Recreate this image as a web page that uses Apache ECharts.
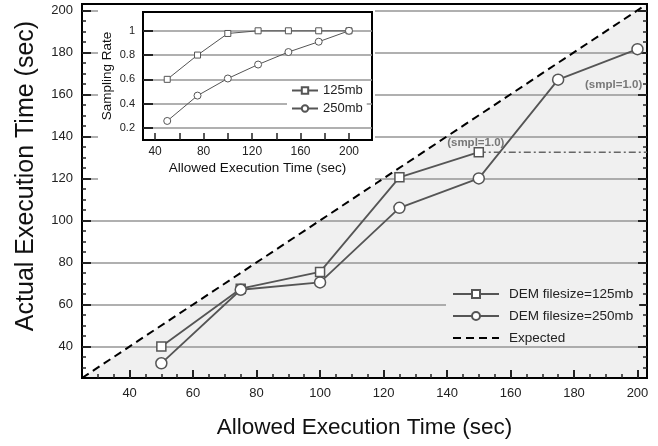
<!DOCTYPE html>
<html>
<head>
<meta charset="utf-8">
<script src="https://cdn.jsdelivr.net/npm/echarts@6/dist/echarts.min.js"></script>
<style>
  html, body { margin: 0; padding: 0; background: #fff; }
  #chart { width: 658px; height: 446px; }
</style>
</head>
<body>
<div id="chart"></div>
<script>
// main plot data
var allowedTime = [50, 75, 100, 125, 150, 175, 200];
var actual125 = [40, 67.5, 75.5, 120.5, 132.5];
var actual250 = [32, 67, 70.5, 106, 120, 167, 181.5];
var axisMin = 25, axisMax = 203;
var majorTicks = [40, 60, 80, 100, 120, 140, 160, 180, 200];
var minorTicks = [30, 35, 45, 50, 55, 65, 70, 75, 85, 90, 95, 105, 110, 115, 125, 130, 135,
                  145, 150, 155, 165, 170, 175, 185, 190, 195];

// inset data
var rate125 = [0.6, 0.8, 0.978, 1, 1, 1, 1];
var rate250 = [0.257, 0.466, 0.607, 0.722, 0.825, 0.91, 1];
var insetXTicks = [40, 60, 80, 100, 120, 140, 160, 180, 200];
var insetXLabels = [40, 80, 120, 160, 200];
var insetYTicks = [0.2, 0.4, 0.6, 0.8, 1];

var FONT = '"Liberation Sans", Arial, Helvetica, sans-serif';
var LINE = '#555';
var GRIDC = '#969696';

function pairs(xs, ys) {
  var out = [];
  for (var i = 0; i < ys.length; i++) out.push([xs[i], ys[i]]);
  return out;
}

var noteStyle = { show: true, formatter: '(smpl=1.0)', fontSize: 11.5, fontWeight: 'bold', color: '#777' };
var d125 = pairs(allowedTime, actual125);
// sampling rate reached 1.0 at these points
d125[d125.length - 1] = {
  value: d125[d125.length - 1],
  label: Object.assign({ position: 'top', distance: 0, offset: [-3, 2] }, noteStyle)
};
var d250 = pairs(allowedTime, actual250);
d250[d250.length - 1] = {
  value: d250[d250.length - 1],
  label: Object.assign({ position: [11, 42], align: 'right', verticalAlign: 'middle' }, noteStyle)
};
var lastIdx = actual125.length - 1;
var plateau = [[allowedTime[lastIdx], actual125[lastIdx]], [axisMax, actual125[lastIdx]]];
var expected = [[axisMin, axisMin], [axisMax, axisMax]];

var chart = echarts.init(document.getElementById('chart'));

function tickAxis(opt) {
  // overlay axis only for tick marks
  return Object.assign({
    type: 'value', gridIndex: 0, min: axisMin, max: axisMax,
    axisLine: { show: false, onZero: false },
    axisLabel: { show: false },
    splitLine: { show: false }
  }, opt);
}

var option = {
  animation: false,
  textStyle: { fontFamily: FONT },
  grid: [
    { left: 82, top: 4, right: 11, bottom: 68, show: true, z: 0,
      backgroundColor: 'transparent', borderColor: '#000', borderWidth: 2 },
    { left: 143, top: 12, right: 286, bottom: 306, show: true, z: 6,
      backgroundColor: '#fff', borderColor: '#000', borderWidth: 2 }
  ],
  graphic: [{
    type: 'rect', z: 5,
    shape: { x: 98, y: 5, width: 277, height: 180 },
    style: { fill: '#fff' }
  }],
  legend: [
    {
      data: ['DEM filesize=125mb', 'DEM filesize=250mb',
             { name: 'Expected', itemStyle: { opacity: 0 } }],
      orient: 'vertical', left: 446, top: 283, itemGap: 8,
      itemWidth: 46, itemHeight: 10, padding: [4, 6, 1, 6],
      backgroundColor: '#f0f0f0',
      textStyle: { fontSize: 13.5, color: '#222', fontFamily: FONT, padding: [0, 0, 0, 5] }
    },
    {
      data: ['125mb', '250mb'], z: 9,
      orient: 'vertical', left: 287, top: 82, itemGap: 5,
      itemWidth: 26, itemHeight: 8, padding: [2, 4, 2, 4],
      backgroundColor: '#fff',
      textStyle: { fontSize: 13, color: '#222', fontFamily: FONT }
    }
  ],
  xAxis: [
    {
      type: 'value', gridIndex: 0, min: axisMin, max: axisMax, position: 'bottom',
      name: 'Allowed Execution Time (sec)', nameLocation: 'middle', nameGap: 38,
      nameTextStyle: { fontSize: 22.5, color: '#111' },
      axisLine: { show: false, onZero: false },
      axisTick: { inside: true, length: 8, customValues: majorTicks, lineStyle: { color: '#222', width: 2 } },
      axisLabel: { customValues: majorTicks, fontSize: 13, color: '#222', margin: 9 },
      splitLine: { show: false }
    },
    tickAxis({ position: 'bottom',
      axisTick: { inside: true, length: 4, customValues: minorTicks, lineStyle: { color: '#222', width: 1.5 } } }),
    {
      type: 'value', gridIndex: 1, min: 30, max: 219, position: 'bottom', z: 7,
      name: 'Allowed Execution Time (sec)', nameLocation: 'middle', nameGap: 21,
      nameTextStyle: { fontSize: 13.5, color: '#111' },
      axisLine: { show: false, onZero: false },
      axisTick: { inside: true, length: 7, customValues: insetXTicks, lineStyle: { color: '#222', width: 1.5 } },
      axisLabel: { customValues: insetXLabels, fontSize: 12, color: '#222', margin: 6 },
      splitLine: { show: false }
    }
  ],
  yAxis: [
    {
      type: 'value', gridIndex: 0, min: axisMin, max: axisMax, position: 'left',
      name: 'Actual Execution Time (sec)', nameLocation: 'middle', nameGap: 43,
      nameTextStyle: { fontSize: 25, color: '#111', padding: [0, 0, 0, 30] },
      axisLine: { show: false, onZero: false },
      axisTick: { inside: true, length: 9, customValues: majorTicks, lineStyle: { color: '#222', width: 2 } },
      axisLabel: { customValues: majorTicks, fontSize: 13, color: '#222', margin: 9 },
      splitLine: { show: true, lineStyle: { color: GRIDC, width: 1.5 } }
    },
    tickAxis({ position: 'left',
      axisTick: { inside: true, length: 4, customValues: minorTicks, lineStyle: { color: '#222', width: 1.5 } } }),
    tickAxis({ position: 'right',
      axisTick: { inside: true, length: 9, customValues: majorTicks, lineStyle: { color: '#222', width: 2 } } }),
    tickAxis({ position: 'right',
      axisTick: { inside: true, length: 4, customValues: minorTicks, lineStyle: { color: '#222', width: 1.5 } } }),
    {
      type: 'value', gridIndex: 1, min: 0.1, max: 1.155, position: 'left', z: 7,
      name: 'Sampling Rate', nameLocation: 'middle', nameGap: 29,
      nameTextStyle: { fontSize: 13.5, color: '#111' },
      axisLine: { show: false, onZero: false },
      axisTick: { inside: true, length: 10, customValues: insetYTicks, lineStyle: { color: '#222', width: 2 } },
      axisLabel: { customValues: insetYTicks, fontSize: 11, color: '#222', margin: 8,
                   formatter: function (v) { return String(+v.toFixed(1)); } },
      splitLine: { show: true, lineStyle: { color: GRIDC, width: 1.5 } }
    }
  ],
  series: [
    {
      name: 'fill', type: 'line', xAxisIndex: 0, yAxisIndex: 0, z: -1,
      data: expected, symbol: 'none', silent: true,
      lineStyle: { width: 0 },
      areaStyle: { color: '#f0f0f0', opacity: 1, origin: 'start' }
    },
    {
      name: 'Expected', type: 'line', xAxisIndex: 0, yAxisIndex: 0, z: 3,
      data: expected, symbol: 'none', color: '#000',
      lineStyle: { color: '#000', width: 2, type: [8, 5] }
    },
    {
      name: 'plateau', type: 'line', xAxisIndex: 0, yAxisIndex: 0, z: 2,
      data: plateau, symbol: 'none', color: '#666',
      lineStyle: { color: '#666', width: 1.5, type: [7, 3, 2, 3] }
    },
    {
      name: 'DEM filesize=125mb', type: 'line', xAxisIndex: 0, yAxisIndex: 0, z: 3,
      data: d125, symbol: 'rect', symbolSize: 9, color: LINE,
      lineStyle: { color: LINE, width: 1.8 },
      itemStyle: { color: '#fff', borderColor: LINE, borderWidth: 1.5 }
    },
    {
      name: 'DEM filesize=250mb', type: 'line', xAxisIndex: 0, yAxisIndex: 0, z: 3,
      data: d250, symbol: 'circle', symbolSize: 11, color: LINE,
      lineStyle: { color: LINE, width: 1.8 },
      itemStyle: { color: '#fff', borderColor: LINE, borderWidth: 1.5 }
    },
    {
      name: '125mb', type: 'line', xAxisIndex: 2, yAxisIndex: 4, z: 8,
      data: pairs(allowedTime, rate125), symbol: 'rect', symbolSize: 6, color: LINE,
      lineStyle: { color: LINE, width: 1 },
      itemStyle: { color: '#fff', borderColor: LINE, borderWidth: 1 }
    },
    {
      name: '250mb', type: 'line', xAxisIndex: 2, yAxisIndex: 4, z: 8,
      data: pairs(allowedTime, rate250), symbol: 'circle', symbolSize: 7, color: LINE,
      lineStyle: { color: LINE, width: 1 },
      itemStyle: { color: '#fff', borderColor: LINE, borderWidth: 1 }
    }
  ]
};

chart.setOption(option);
</script>
</body>
</html>
